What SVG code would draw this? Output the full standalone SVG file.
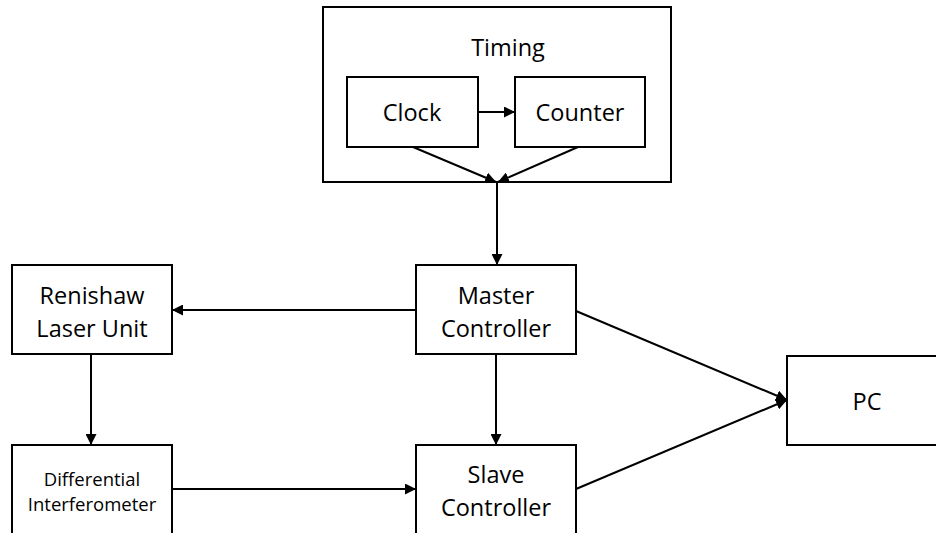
<svg xmlns="http://www.w3.org/2000/svg" width="936" height="533" viewBox="0 0 936 533">
  <style>
    .box { fill: #ffffff; stroke: #000000; stroke-width: 2; }
    .lbl { font-family: "Open Sans", "Liberation Sans", sans-serif; font-size: 23.5px; fill: #000000; text-anchor: middle; }
    .sm { font-size: 18.5px; }
    .wire { fill: none; stroke: #000000; stroke-width: 2; marker-end: url(#head); }
  </style>
  <defs>
    <marker id="head" viewBox="0 0 10 10" refX="10" refY="5" markerWidth="5.5" markerHeight="5.5" orient="auto" markerUnits="strokeWidth">
      <path d="M0,0 L10,5 L0,10 Z" fill="#000000"/>
    </marker>
  </defs>
  <rect width="936" height="533" fill="#ffffff"/>

  <g id="timing">
    <rect class="box" x="323" y="7" width="348" height="175"/>
    <text class="lbl" x="508" y="56">Timing</text>
  </g>
  <g id="clock">
    <rect class="box" x="347" y="77" width="131" height="70"/>
    <text class="lbl" x="412" y="121">Clock</text>
  </g>
  <g id="counter">
    <rect class="box" x="515" y="77" width="130" height="70"/>
    <text class="lbl" x="580" y="121">Counter</text>
  </g>
  <g id="master">
    <rect class="box" x="416" y="265" width="160" height="89"/>
    <text class="lbl" x="496" y="304">Master</text>
    <text class="lbl" x="496" y="337">Controller</text>
  </g>
  <g id="slave">
    <rect class="box" x="416" y="445" width="160" height="100"/>
    <text class="lbl" x="496" y="483">Slave</text>
    <text class="lbl" x="496" y="516">Controller</text>
  </g>
  <g id="renishaw">
    <rect class="box" x="12" y="265" width="160" height="89"/>
    <text class="lbl" x="92" y="304">Renishaw</text>
    <text class="lbl" x="92" y="337">Laser Unit</text>
  </g>
  <g id="interferometer">
    <rect class="box" x="12" y="445" width="160" height="100"/>
    <text class="lbl sm" x="92" y="486">Differential</text>
    <text class="lbl sm" x="92" y="511">Interferometer</text>
  </g>
  <g id="pc">
    <rect class="box" x="787" y="356" width="160" height="89"/>
    <text class="lbl" x="867" y="410">PC</text>
  </g>

  <g id="connectors">
    <line class="wire" x1="478" y1="112" x2="515" y2="112"/>
    <line class="wire" x1="413" y1="147" x2="496" y2="182"/>
    <line class="wire" x1="578" y1="147" x2="498" y2="182"/>
    <line class="wire" x1="497" y1="182" x2="497" y2="265"/>
    <line class="wire" x1="416" y1="310" x2="172" y2="310"/>
    <line class="wire" x1="91" y1="354" x2="91" y2="445"/>
    <line class="wire" x1="496" y1="354" x2="496" y2="445"/>
    <line class="wire" x1="172" y1="489" x2="416" y2="489"/>
    <line class="wire" x1="576" y1="311" x2="787" y2="400"/>
    <line class="wire" x1="576" y1="489" x2="787" y2="400"/>
  </g>
</svg>
